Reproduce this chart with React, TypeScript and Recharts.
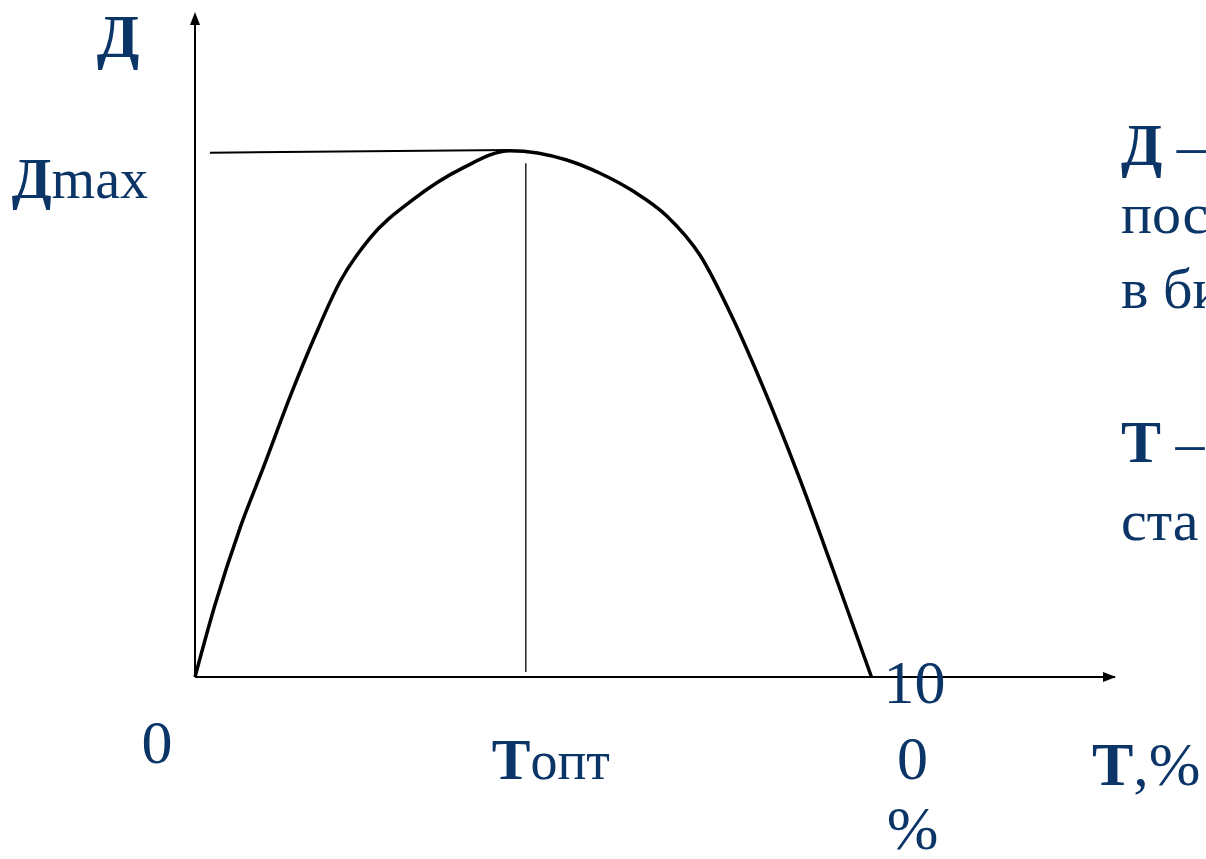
import React from "react"
import { Line, LineChart, ReferenceDot, ReferenceLine, XAxis, YAxis } from "recharts"

// T, % (share) along x and Д (yield) along y
const tValues = [0, 2.96, 6.65, 10.35, 14.04, 17.74, 21.43, 25.87, 32.22, 39.61, 46.56, 54.95, 59.87, 64.75, 69.78, 74.66, 79.53, 83.52, 89.44, 94.32, 100]
const dValues = [0, 10.9, 22.5, 32.3, 42.3, 51.5, 59.7, 66.3, 72.1, 76.9, 79.5, 78.1, 76.1, 73.4, 69.6, 63.7, 54.1, 44.9, 29.8, 16.2, 0]

const T_OPT = 48.9
const D_MAX = 79.5
const xTicks = [0, T_OPT, 100]
const yTicks = [D_MAX]

const noteLines = [
  { bold: "Д", rest: " – доля", y: 165 },
  { bold: "", rest: "посевов", y: 233 },
  { bold: "", rest: "в биоценозе", y: 308 },
  { bold: "Т", rest: " – доля", y: 462 },
  { bold: "", rest: "ста", y: 540 },
]

const data = tValues.map((t, i) => ({ t, d: dValues[i] }))

const BLUE = "#0b3567"
const FONT = "'Liberation Serif', 'Times New Roman', serif"
const FS = 62

const XTick = (props: any) => {
  const { x, y, payload } = props
  const v = payload.value
  if (v === 0) {
    return (
      <text x={x - 38} y={y + 86} textAnchor="middle" fill={BLUE} fontFamily={FONT} fontSize={FS}>0</text>
    )
  }
  if (v === 100) {
    return (
      <text x={x + 43} textAnchor="middle" fill={BLUE} fontFamily={FONT} fontSize={FS}>
        <tspan x={x + 43} y={y + 26}>10</tspan>
        <tspan x={x + 41} y={y + 102}>0</tspan>
        <tspan x={x + 41} y={y + 172}>%</tspan>
      </text>
    )
  }
  return (
    <text x={x - 34} y={y + 102} fill={BLUE} fontFamily={FONT} fontSize={58}>
      <tspan fontWeight="bold">Т</tspan>
      <tspan fontSize={54}>опт</tspan>
    </text>
  )
}

const YTick = (props: any) => {
  const { x, y } = props
  return (
    <text x={x - 47} y={y + 47} textAnchor="end" fill={BLUE} fontFamily={FONT} fontSize={58}>
      <tspan fontWeight="bold">Д</tspan>
      <tspan fontSize={56}>max</tspan>
    </text>
  )
}

const ArrowUp = (props: any) => {
  const { cx, cy } = props
  return <path d={`M${cx},${cy - 3} L${cx - 5},${cy + 10} L${cx + 5},${cy + 10} Z`} fill="#000" />
}

const ArrowRight = (props: any) => {
  const { cx, cy } = props
  return <path d={`M${cx + 1},${cy} L${cx - 12},${cy - 5} L${cx - 12},${cy + 5} Z`} fill="#000" />
}

const Notes = () => (
  <g fill={BLUE} fontFamily={FONT} fontSize={FS}>
    <text x={118} y={57} textAnchor="middle" fontWeight="bold">Д</text>
    <text x={1092} y={785}>
      <tspan fontWeight="bold">Т</tspan>
      <tspan>,%</tspan>
    </text>
    {noteLines.map((l, i) => (
      <text key={i} x={1121} y={l.y} fontSize={58}>
        {l.bold && <tspan fontWeight="bold" fontSize={60}>{l.bold}</tspan>}
        <tspan>{l.rest}</tspan>
      </text>
    ))}
  </g>
)

export default function App() {
  return (
    <div style={{ position: "absolute", left: 0, top: 0, width: 1206, height: 859, background: "#fff" }}>
      <LineChart width={1206} height={859} data={data} margin={{ top: 15, right: 91, bottom: 10, left: 0 }}>
        <XAxis
          dataKey="t"
          type="number"
          domain={[0, 136]}
          ticks={xTicks}
          tick={<XTick />}
          tickLine={false}
          tickSize={0}
          tickMargin={0}
          height={172}
          axisLine={{ stroke: "#000", strokeWidth: 2 }}
          interval={0}
        />
        <YAxis
          type="number"
          domain={[0, 100]}
          ticks={yTicks}
          tick={<YTick />}
          tickLine={false}
          tickSize={0}
          tickMargin={0}
          width={195}
          axisLine={{ stroke: "#000", strokeWidth: 2 }}
          interval={0}
        />
        <ReferenceLine
          segment={[{ x: 2.2, y: 79.2 }, { x: 46.6, y: 79.6 }]}
          stroke="#000"
          strokeWidth={2}
        />
        <ReferenceLine
          segment={[{ x: T_OPT, y: 77.6 }, { x: T_OPT, y: 0.75 }]}
          stroke="#222"
          strokeWidth={1.5}
        />
        <Line
          type="monotone"
          dataKey="d"
          stroke="#000"
          strokeWidth={3.5}
          dot={false}
          activeDot={false}
          isAnimationActive={false}
        />
        <ReferenceDot x={0} y={100} r={0} shape={<ArrowUp />} ifOverflow="visible" />
        <ReferenceDot x={136} y={0} r={0} shape={<ArrowRight />} ifOverflow="visible" />
        <Notes />
      </LineChart>
    </div>
  )
}
